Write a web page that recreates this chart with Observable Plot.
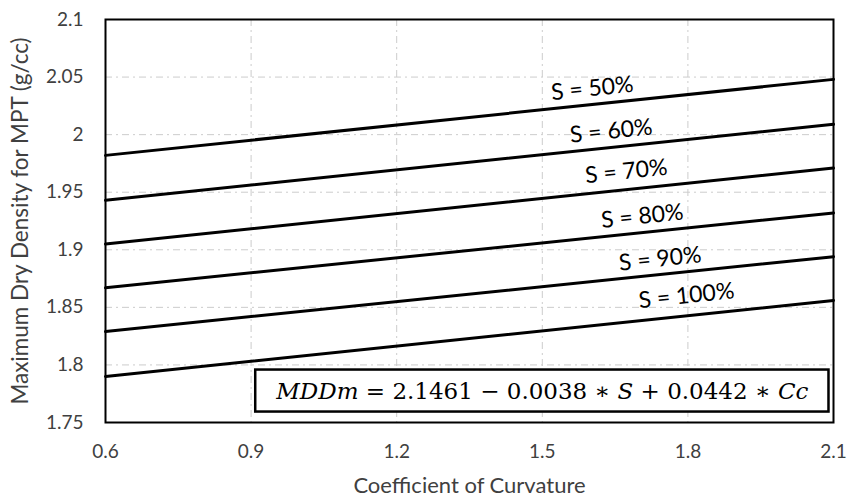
<!DOCTYPE html>
<html>
<head>
<meta charset="utf-8">
<script src="https://cdn.jsdelivr.net/npm/d3@7"></script>
<script src="https://cdn.jsdelivr.net/npm/@observablehq/plot@0.6"></script>
<style>
  html, body { margin: 0; padding: 0; background: #fff; }
  #chart svg { display: block; }
  #chart g[aria-label$="tick label"] { font-size: 19px; }
</style>
</head>
<body>
<div id="chart"></div>
<script>
// Coefficient of curvature range covered by each line
const ccRange = [0.6, 2.1];
// Degree of saturation for each line (%)
const saturation = [50, 60, 70, 80, 90, 100];
// Maximum dry density (g/cc) at Cc = 0.6 and Cc = 2.1
const mddAtStart = [1.982, 1.943, 1.905, 1.867, 1.829, 1.790];
const mddAtEnd = [2.048, 2.009, 1.971, 1.932, 1.894, 1.856];
// Where each saturation label sits (Cc, MDD)
const labelCc = [1.603, 1.642, 1.673, 1.706, 1.743, 1.797];
const labelMdd = [2.040, 2.003, 1.968, 1.929, 1.892, 1.860];
// Axis ticks
const xTicks = [0.6, 0.9, 1.2, 1.5, 1.8, 2.1];
const yTicks = [1.75, 1.8, 1.85, 1.9, 1.95, 2, 2.05, 2.1];
// Regression equation, shown in a box
const equationText = "MDDm = 2.1461 − 0.0038 ∗ S + 0.0442 ∗ Cc";
const equationAt = {cc: 1.5, mdd: 1.7772};

const lines = saturation.flatMap((s, i) => [
  {s, cc: ccRange[0], mdd: mddAtStart[i]},
  {s, cc: ccRange[1], mdd: mddAtEnd[i]}
]);
const labels = saturation.map((s, i) => ({text: `S = ${s}%`, cc: labelCc[i], mdd: labelMdd[i]}));

const font = "Lato, 'Open Sans', sans-serif";
const fmt = d => String(+d.toFixed(2));
const grid = {stroke: "#cccccc", strokeWidth: 1, strokeDasharray: "7,4,2,4", strokeOpacity: 1};

const chart = Plot.plot({
  width: 849,
  height: 503,
  marginLeft: 105,
  marginRight: 16,
  marginTop: 19,
  marginBottom: 81,
  style: {fontFamily: font, fontSize: "19px", color: "#404040", background: "#fff"},
  x: {domain: [0.6, 2.1]},
  y: {domain: [1.75, 2.1]},
  marks: [
    Plot.gridX(xTicks.slice(1, -1), {...grid}),
    Plot.gridY(yTicks.slice(1, -1), {...grid}),
    Plot.axisX(xTicks, {tickSize: 0, tickPadding: 22, tickFormat: fmt, fill: "#404040", label: null}),
    Plot.axisY(yTicks, {tickSize: 0, tickPadding: 22, tickFormat: fmt, fill: "#404040", label: null}),
    Plot.line(lines, {x: "cc", y: "mdd", z: "s", stroke: "#000", strokeWidth: 3}),
    Plot.text(labels, {x: "cc", y: "mdd", text: "text", rotate: -6, fontSize: 23, fill: "#000"}),
    Plot.text([equationText], {x: () => equationAt.cc, y: () => equationAt.mdd, text: d => d,
      fontSize: 23, fontFamily: "'DejaVu Serif', serif", fill: "#000", className: "equation"}),
    Plot.frame({stroke: "#000", strokeWidth: 2}),
    Plot.text(["Coefficient of Curvature"], {frameAnchor: "bottom", dy: 70, text: d => d,
      fontSize: 22, fill: "#404040"}),
    Plot.text(["Maximum Dry Density for MPT (g/cc)"], {frameAnchor: "left", textAnchor: "middle",
      dx: -85, rotate: -90, text: d => d, fontSize: 22.5, fill: "#404040"})
  ]
});

document.getElementById("chart").appendChild(chart);

// Italicize the variables in the equation and draw its box
const eqText = chart.querySelector("g.equation text");
if (eqText) {
  const parts = [["MDDm", true], [" = 2.1461 − 0.0038 ∗ ", false], ["S", true], [" + 0.0442 ∗ ", false], ["Cc", true]];
  eqText.textContent = "";
  for (const [str, italic] of parts) {
    const t = document.createElementNS("http://www.w3.org/2000/svg", "tspan");
    t.textContent = str;
    if (italic) t.setAttribute("font-style", "italic");
    eqText.appendChild(t);
  }
  const bb = eqText.getBBox();
  const padX = 20, padY = 8;
  const rect = document.createElementNS("http://www.w3.org/2000/svg", "rect");
  rect.setAttribute("x", bb.x - padX);
  rect.setAttribute("y", bb.y - padY);
  rect.setAttribute("width", bb.width + 2 * padX);
  rect.setAttribute("height", bb.height + 2 * padY);
  rect.setAttribute("fill", "#fff");
  rect.setAttribute("stroke", "#000");
  rect.setAttribute("stroke-width", 2.5);
  // the box shares the text's own placement
  if (eqText.hasAttribute("transform")) rect.setAttribute("transform", eqText.getAttribute("transform"));
  eqText.parentNode.insertBefore(rect, eqText);
}
</script>
</body>
</html>
